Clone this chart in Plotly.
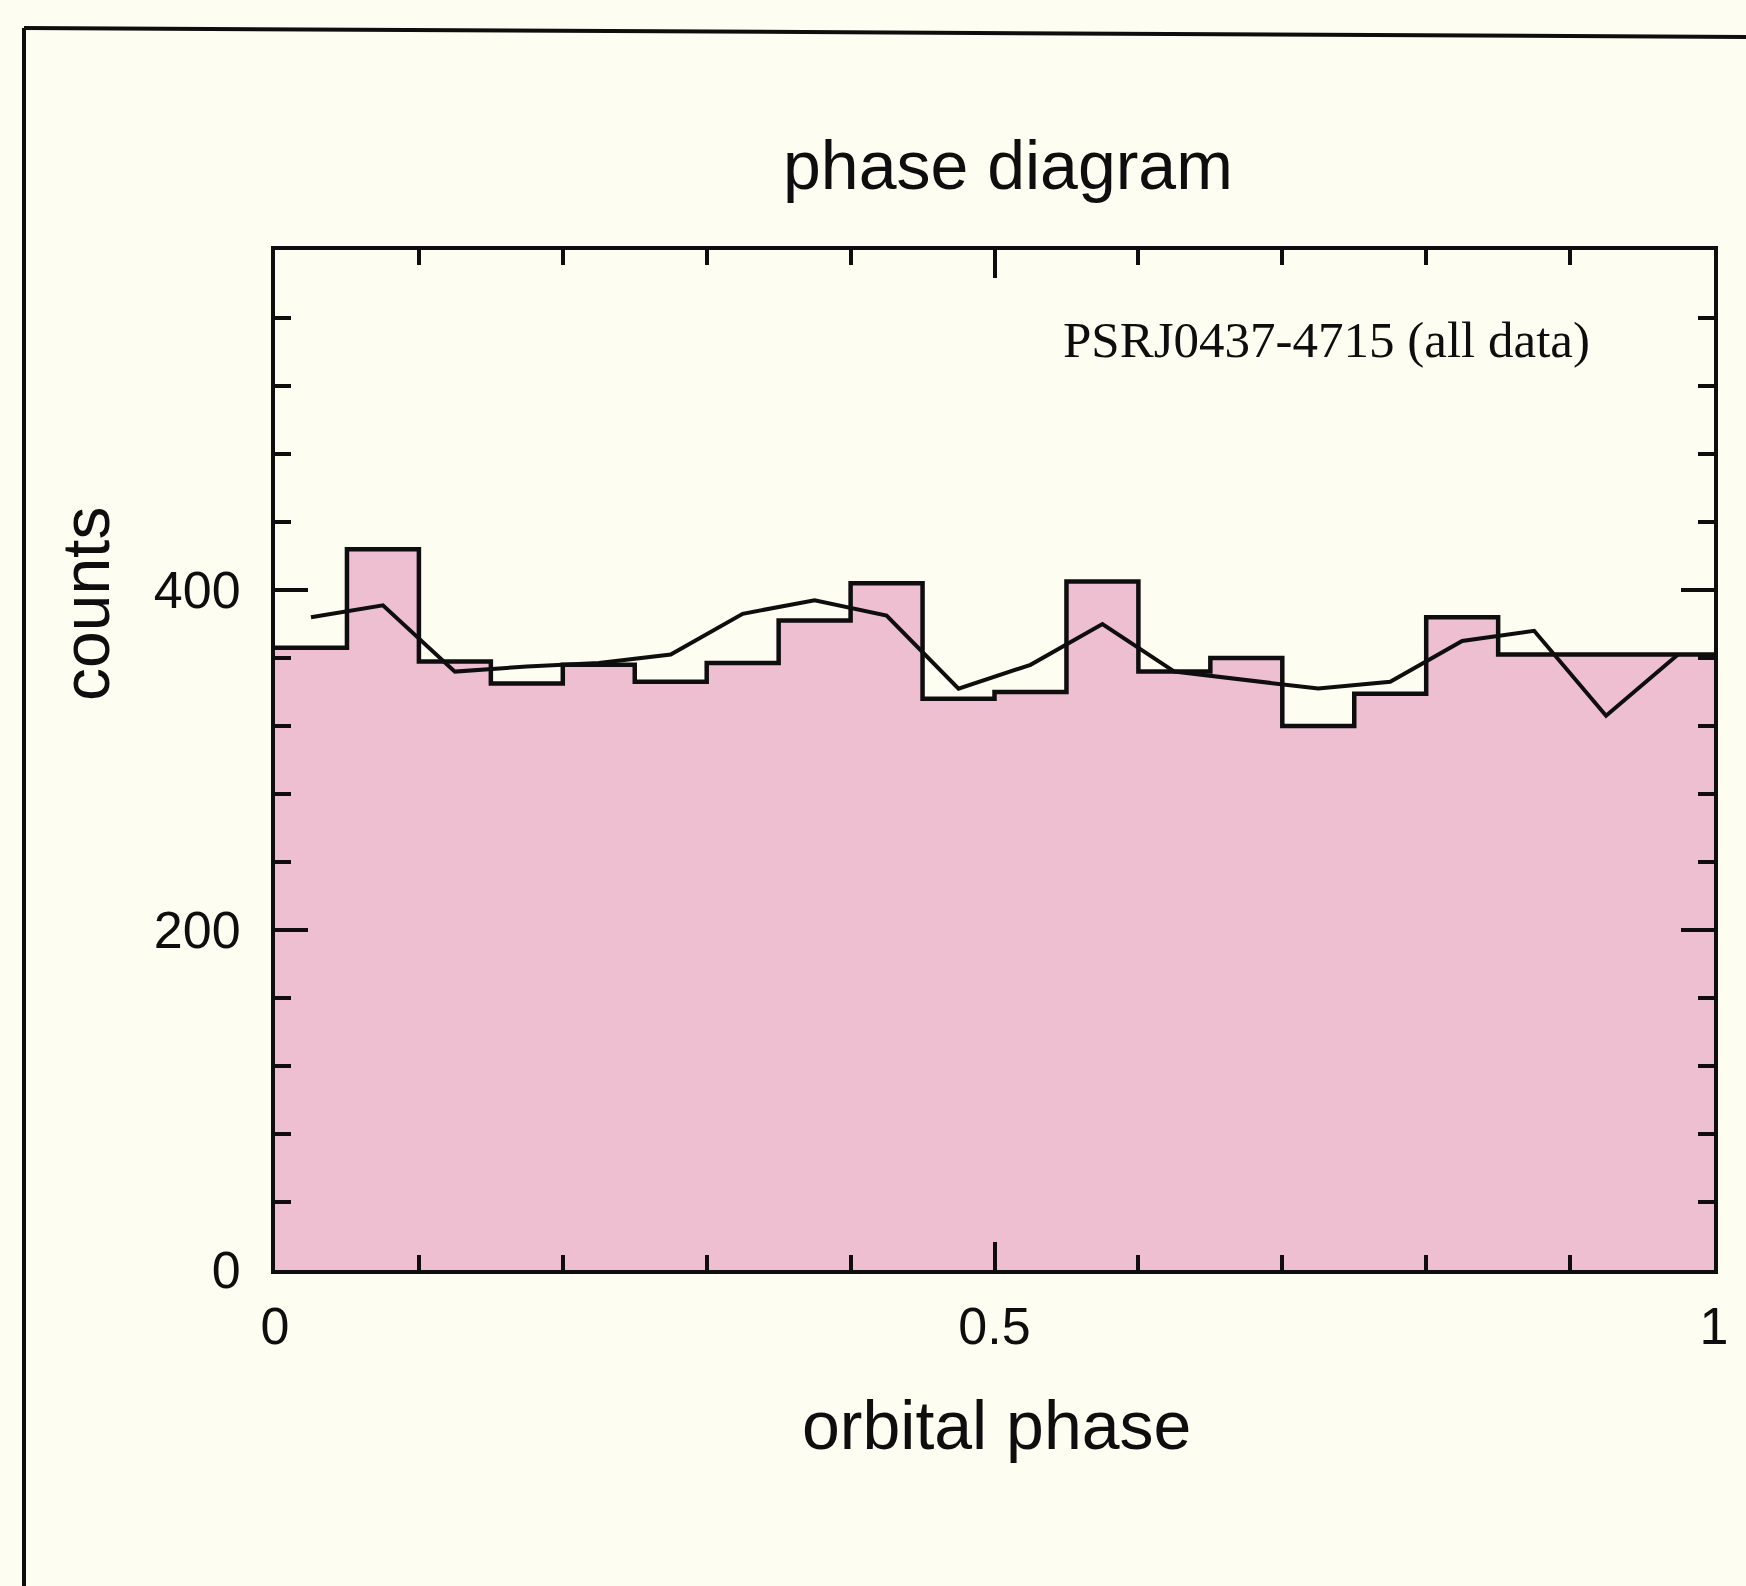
import plotly.graph_objects as go

# ---- data ----
bin_left = [0.00, 0.05, 0.10, 0.15, 0.20, 0.25, 0.30, 0.35, 0.40, 0.45,
            0.50, 0.55, 0.60, 0.65, 0.70, 0.75, 0.80, 0.85, 0.90, 0.95]
bin_right_end = 1.00
counts = [366, 424, 358, 345, 356, 346, 357, 382, 404, 336,
          340, 405, 352, 360, 320, 339, 384, 362, 362, 362]

curve_phase = [0.025, 0.075, 0.125, 0.175, 0.225, 0.275, 0.325, 0.375, 0.425, 0.475,
               0.525, 0.575, 0.625, 0.675, 0.725, 0.775, 0.825, 0.875, 0.925, 0.975]
curve_counts = [384, 391, 352, 355, 357, 362, 386, 394, 385, 342,
                356, 380, 352, 347, 342, 346, 370, 376, 326, 362]

x_tick_vals = [0, 0.5, 1]
x_tick_text = ["0", "0.5", "1"]
x_minor_vals = [0.1, 0.2, 0.3, 0.4, 0.6, 0.7, 0.8, 0.9]
y_tick_vals = [0, 200, 400]
y_tick_text = ["0", "200", "400"]
y_minor_vals = [40, 80, 120, 160, 240, 280, 320, 360, 440, 480, 520, 560]

title_text = "phase diagram"
x_title = "orbital phase"
y_title = "counts"
label_text = "PSRJ0437-4715 (all data)"

# ---- style ----
BG = "#FEFDF2"
PINK = "#EDBFD1"
INK = "#0E0E0E"
SANS = "Liberation Sans, Arial, Helvetica, sans-serif"
SERIF = "Liberation Serif, Times New Roman, serif"

W, H = 1746, 1586
L, R, T, B = 275, 32, 250, 316
pw, ph = W - L - R, H - T - B


def px(x):
    return (x - L) / pw


def py(y):
    return (H - B - y) / ph


step_x = bin_left + [bin_right_end]
step_y = counts + [counts[-1]]

fig = go.Figure()
fig.add_trace(go.Scatter(
    x=step_x, y=step_y, mode="lines", line_shape="hv",
    fill="tozeroy", fillcolor=PINK,
    line=dict(color=INK, width=4.5), hoverinfo="skip", showlegend=False))
fig.add_trace(go.Scatter(
    x=curve_phase, y=curve_counts, mode="lines",
    line=dict(color=INK, width=4), showlegend=False))

axis_common = dict(showline=True, linecolor=INK, linewidth=4, mirror="ticks",
                   ticks="inside", tickcolor=INK, tickwidth=3.5,
                   showgrid=False, zeroline=False,
                   tickfont=dict(family=SANS, size=52, color=INK))

fig.update_xaxes(range=[0, 1], tickmode="array", tickvals=x_tick_vals,
                 ticktext=x_tick_text, ticklen=28, ticklabelstandoff=8,
                 minor=dict(tickmode="array", tickvals=x_minor_vals, ticks="inside",
                            ticklen=15, tickwidth=3.5, tickcolor=INK),
                 **axis_common)
fig.update_yaxes(range=[0, 600], tickmode="array", tickvals=y_tick_vals,
                 ticktext=y_tick_text, ticklen=33, ticklabelstandoff=20,
                 minor=dict(tickmode="array", tickvals=y_minor_vals, ticks="inside",
                            ticklen=16, tickwidth=3.5, tickcolor=INK),
                 **axis_common)

annotations = [
    dict(text=title_text, x=px(1008), y=py(165), font=dict(family=SANS, size=68, color=INK)),
    dict(text=x_title, x=px(996), y=py(1425), font=dict(family=SANS, size=68, color=INK)),
    dict(text=y_title, x=px(86), y=py(604), textangle=-90,
         font=dict(family=SANS, size=66, color=INK)),
    dict(text=label_text, x=px(1326), y=py(340), font=dict(family=SERIF, size=51, color=INK)),
]
for a in annotations:
    a.update(xref="paper", yref="paper", showarrow=False, xanchor="center", yanchor="middle")

shapes = [
    dict(type="line", xref="paper", yref="paper", x0=px(24), y0=py(28), x1=px(1760), y1=py(37),
         line=dict(color=INK, width=4)),
    dict(type="line", xref="paper", yref="paper", x0=px(24), y0=py(28), x1=px(24), y1=py(1600),
         line=dict(color=INK, width=4)),
]

fig.update_layout(width=W, height=H, margin=dict(l=L, r=R, t=T, b=B, pad=0),
                  paper_bgcolor=BG, plot_bgcolor=BG,
                  annotations=annotations, shapes=shapes, showlegend=False)

fig.write_html("out.html")
